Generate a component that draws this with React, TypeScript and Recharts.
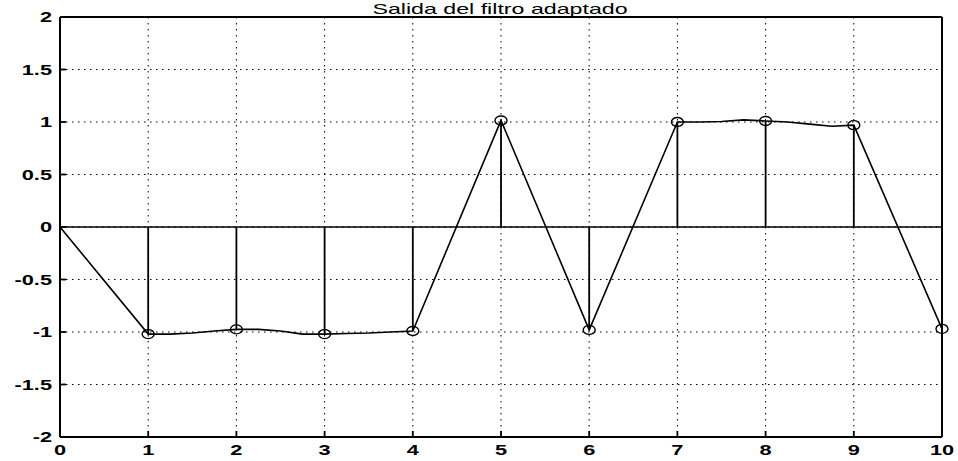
import React from 'react';
import {
  ComposedChart,
  Line,
  Scatter,
  XAxis,
  YAxis,
  CartesianGrid,
  ReferenceLine,
} from 'recharts';

// sample instants (stems)
const stemX = [1, 2, 3, 4, 5, 6, 7, 8, 9, 10];
const stemY = [-1.02, -0.975, -1.02, -0.99, 1.015, -0.98, 1.0, 1.01, 0.97, -0.97];

// continuous filter output
const curveX = [0, 1, 1.25, 1.5, 1.75, 2, 2.25, 2.5, 2.75, 3, 3.25, 3.5, 3.75, 4, 5, 6, 7, 7.25, 7.5, 7.75, 8, 8.25, 8.5, 8.75, 9, 10];
const curveY = [0, -1.02, -1.02, -1.01, -0.99, -0.975, -0.975, -0.99, -1.02, -1.02, -1.015, -1.01, -1.0, -0.99, 1.015, -0.98, 1.0, 1.0, 1.005, 1.02, 1.01, 1.0, 0.98, 0.96, 0.97, -0.97];

const xTicks = [0, 1, 2, 3, 4, 5, 6, 7, 8, 9, 10];
const yTicks = [-2, -1.5, -1, -0.5, 0, 0.5, 1, 1.5, 2];

const title = 'Salida del filtro adaptado';

const stems = stemX.map((x, i) => ({ x, y: stemY[i] }));
const curve = curveX.map((x, i) => ({ x, y: curveY[i] }));

const FONT = '"Liberation Sans", Arial, sans-serif';
const STRETCH = 1.5;

const BottomTick = ({ x, y, payload }: any) => (
  <g>
    {payload.value !== 0 && payload.value !== 10 && (
      <line x1={x} y1={y} x2={x} y2={y - 6} stroke="#000" strokeWidth={1.8} />
    )}
    <g transform={`translate(${x},${y + 18}) scale(${STRETCH},1)`}>
      <text x={0} y={0} textAnchor="middle" fontFamily={FONT} fontWeight="bold" fontSize={14.5} fill="#000">
        {payload.value}
      </text>
    </g>
  </g>
);

const LeftTick = ({ x, y, payload }: any) => (
  <g>
    {payload.value !== -2 && payload.value !== 2 && (
      <line x1={x} y1={y} x2={x + 6} y2={y} stroke="#000" strokeWidth={1.8} />
    )}
    <g transform={`translate(${x - 8},${y + 5}) scale(${STRETCH},1)`}>
      <text x={0} y={0} textAnchor="end" fontFamily={FONT} fontWeight="bold" fontSize={14.5} fill="#000">
        {payload.value}
      </text>
    </g>
  </g>
);

const TopTick = ({ x, y, payload }: any) =>
  payload.value === 0 || payload.value === 10 ? <g /> : (
    <line x1={x} y1={y} x2={x} y2={y + 6} stroke="#000" strokeWidth={1.8} />
  );

const RightTick = ({ x, y, payload }: any) =>
  payload.value === -2 || payload.value === 2 ? <g /> : (
    <line x1={x} y1={y} x2={x - 6} y2={y} stroke="#000" strokeWidth={1.8} />
  );

const Ring = ({ cx, cy }: any) => (
  <ellipse cx={cx} cy={cy} rx={6} ry={4.5} fill="none" stroke="#000" strokeWidth={1.4} />
);

const App: React.FC = () => {
  return (
    <div style={{ position: 'absolute', left: 0, top: 0, width: 958, height: 461, background: '#fff' }}>
      <ComposedChart width={958} height={461} margin={{ top: 0, right: 0, bottom: 0, left: 0 }}>
        <CartesianGrid stroke="#000" strokeDasharray="1.5 4.5" strokeWidth={1} />
        <XAxis
          dataKey="x"
          type="number"
          domain={[0, 10]}
          ticks={xTicks}
          height={24}
          tickSize={0}
          tickMargin={0}
          tick={<BottomTick />}
          axisLine={{ stroke: '#000', strokeWidth: 2 }}
        />
        <XAxis
          xAxisId="top"
          orientation="top"
          type="number"
          domain={[0, 10]}
          ticks={xTicks}
          height={17}
          tickSize={0}
          tickMargin={0}
          tick={<TopTick />}
          axisLine={{ stroke: '#000', strokeWidth: 2 }}
        />
        <YAxis
          type="number"
          domain={[-2, 2]}
          ticks={yTicks}
          width={60}
          tickSize={0}
          tickMargin={0}
          tick={<LeftTick />}
          axisLine={{ stroke: '#000', strokeWidth: 2 }}
        />
        <YAxis
          yAxisId="right"
          orientation="right"
          type="number"
          domain={[-2, 2]}
          ticks={yTicks}
          width={16}
          tickSize={0}
          tickMargin={0}
          tick={<RightTick />}
          axisLine={{ stroke: '#000', strokeWidth: 2 }}
        />
        <ReferenceLine y={0} stroke="#000" strokeWidth={1.5} />
        {stems.map((s) => (
          <ReferenceLine
            key={`stem-${s.x}`}
            segment={[{ x: s.x, y: 0 }, { x: s.x, y: s.y }]}
            stroke="#000"
            strokeWidth={1.8}
          />
        ))}
        <Line
          data={curve}
          dataKey="y"
          type="linear"
          stroke="#000"
          strokeWidth={1.6}
          dot={false}
          isAnimationActive={false}
        />
        <Scatter data={stems} dataKey="y" shape={<Ring />} isAnimationActive={false} />
      </ComposedChart>
      <svg width={958} height={20} style={{ position: 'absolute', left: 0, top: 0 }}>
        <g transform={`translate(500,13.5) scale(1.6,1)`}>
          <text x={0} y={0} textAnchor="middle" fontFamily={FONT} fontSize={14.5} fill="#000">
            {title}
          </text>
        </g>
      </svg>
    </div>
  );
};

export default App;
